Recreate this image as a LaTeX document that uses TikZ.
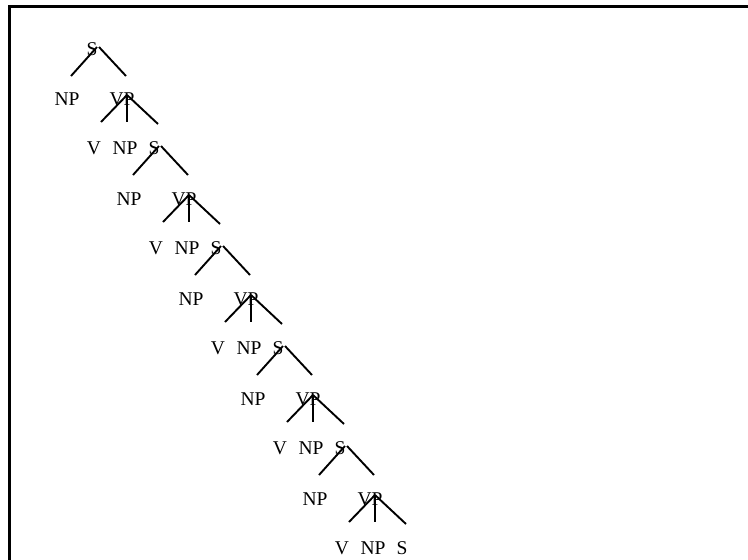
\documentclass[tikz,border=0pt]{standalone}
\usepackage{fontspec}
\setmainfont{Liberation Serif}
\begin{document}
\begin{tikzpicture}[x=1pt,y=-1pt,
  lbl/.style={inner sep=0pt,outer sep=0pt,font=\fontsize{19.5}{23}\selectfont},
  branch/.style={line width=1.9pt}]
\useasboundingbox (0,0) rectangle (748,560);
\draw[line width=3pt] (9,560) -- (9,6.5) -- (748,6.5);
\node[lbl] (S0) at (92,49) {S};
\foreach \k [evaluate=\k as \xs using 92+62*\k, evaluate=\k as \ys using 49+100*\k, evaluate=\k as \kn using int(\k+1)] in {0,...,4}{
  \node[lbl] (NPa\k) at (\xs-25,\ys+50) {NP};
  \node[lbl] (VP\k) at (\xs+30,\ys+50) {VP};
  \node[lbl] (V\k) at (\xs+2,\ys+99) {V};
  \node[lbl] (NPb\k) at (\xs+33,\ys+99) {NP};
  \node[lbl] (S\kn) at (\xs+62,\ys+99) {S};
  \coordinate (sa\k) at ([shift={(5,-2)}]S\k.center);
  \coordinate (sb\k) at ([shift={(7,-2)}]S\k.center);
  \draw[branch] (sa\k) -- ([shift={(-21,27)}]S\k.center);
  \draw[branch] (sb\k) -- ([shift={(34,27)}]S\k.center);
  \coordinate (va\k) at ([shift={(5,-4)}]VP\k.center);
  \draw[branch] (va\k) -- ([shift={(-21,23)}]VP\k.center);
  \draw[branch] ([shift={(5,-3)}]VP\k.center) -- ([shift={(5,23)}]VP\k.center);
  \draw[branch] (va\k) -- ([shift={(36,25)}]VP\k.center);
}
\end{tikzpicture}
\end{document}
